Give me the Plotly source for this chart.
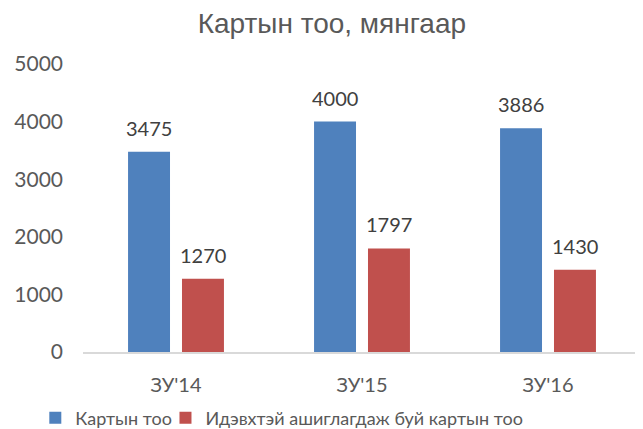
import plotly.graph_objects as go

categories = ["ЗУ'14", "ЗУ'15", "ЗУ'16"]
cards_total = [3475, 4000, 3886]
cards_active = [1270, 1797, 1430]
series_names = ["Картын тоо", "Идэвхтэй ашиглагдаж буй картын тоо"]
y_ticks = [0, 1000, 2000, 3000, 4000, 5000]

FONT = "Lato, 'Open Sans', Arial, sans-serif"
blue = "#4F81BD"
red = "#C0504D"

fig = go.Figure()
fig.add_trace(go.Bar(x=categories, y=cards_total, name=series_names[0],
                     marker=dict(color=blue, line=dict(width=0)), legend="legend2",
                     showlegend=True))
fig.add_trace(go.Bar(x=categories, y=cards_active, name=series_names[1],
                     marker=dict(color=red, line=dict(width=0)), legend="legend3",
                     showlegend=True))

annotations = []
for vals, shift in ((cards_total, -27), (cards_active, 27)):
    for c, v in zip(categories, vals):
        annotations.append(dict(x=c, y=v, xref="x", yref="y", text=str(v),
                                showarrow=False, xshift=shift, yshift=24,
                                font=dict(family=FONT, size=20, color="#404040")))

legend_common = dict(orientation="h", xanchor="left", xref="container", yref="container",
                     y=0.026, yanchor="middle", itemwidth=30, bgcolor="rgba(0,0,0,0)",
                     font=dict(family=FONT, size=18, color="#595959"))

fig.update_layout(
    width=635, height=421,
    margin=dict(l=75, r=2, t=56, b=77),
    paper_bgcolor="white", plot_bgcolor="white",
    title=dict(text="Картын тоо, мянгаар", x=0.51, xanchor="center", y=0.965, yanchor="middle",
               font=dict(family="'Liberation Sans', Arial, sans-serif", size=28, color="#595959")),
    barmode="group", bargap=0.42, bargroupgap=0.222,
    xaxis=dict(showgrid=False, showline=True, linecolor="#D9D9D9", linewidth=1.5,
               ticks="", ticklabelstandoff=14,
               tickfont=dict(family=FONT, size=20, color="#595959")),
    yaxis=dict(range=[0, 5000], tickvals=y_ticks, showgrid=False, zeroline=False,
               showline=False, ticks="", ticklabelstandoff=19,
               tickfont=dict(family=FONT, size=21, color="#595959")),
    legend2=dict(x=0.043, **legend_common),
    legend3=dict(x=0.248, **legend_common),
    annotations=annotations,
)

fig.write_html("out.html")
